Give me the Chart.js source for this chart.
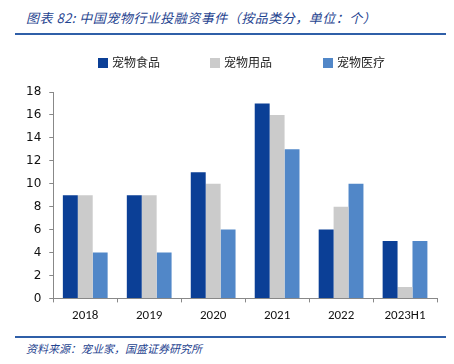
<!DOCTYPE html>
<html>
<head>
<meta charset="utf-8">
<script src="https://cdn.jsdelivr.net/npm/chart.js@4"></script>
<style>
  body { margin: 0; background: #fff; width: 454px; height: 364px; position: relative; overflow: hidden; }
  #title { position: absolute; left: 26px; top: 8px; font: italic 13px "Noto Sans CJK SC", sans-serif; color: #1F4490; white-space: nowrap; letter-spacing: 0.5px; }
  .rule { position: absolute; left: 15px; width: 431px; height: 2px; background: #2F5FA8; }
  #src { position: absolute; left: 26px; top: 340px; font: italic 11px "Noto Sans CJK SC", sans-serif; color: #1F4490; white-space: nowrap; }
  #wrap { position: absolute; left: 0; top: 40px; width: 454px; height: 290px; }
  .lg { position: absolute; top: 53px; font: 12px "Noto Sans CJK SC", sans-serif; color: #222; white-space: nowrap; line-height: 18px; }
  .lg i { display: inline-block; width: 10px; height: 10px; margin-right: 4px; vertical-align: -1px; }
</style>
</head>
<body>
<div id="title">图表 82:  中国宠物行业投融资事件（按品类分，单位：个）</div>
<div class="rule" style="top:33px"></div>
<div id="wrap"><canvas id="myBarChart"></canvas></div>
<div id="legend"></div>
<div class="rule" style="top:336px"></div>
<div id="src">资料来源：宠业家，国盛证券研究所</div>
<script>
const years = ['2018', '2019', '2020', '2021', '2022', '2023H1'];
const food = [9, 9, 11, 17, 6, 5];
const supplies = [9, 9, 10, 16, 8, 1];
const medical = [4, 4, 6, 13, 10, 5];
const yTicks = [0, 2, 4, 6, 8, 10, 12, 14, 16, 18];

const ctx = document.getElementById('myBarChart').getContext('2d');

const data = {
    labels: years,
    datasets: [
        {
            label: '宠物食品',
            data: food,
            backgroundColor: '#0B3F96'
        },
        {
            label: '宠物用品',
            data: supplies,
            backgroundColor: '#CBCBCB'
        },
        {
            label: '宠物医疗',
            data: medical,
            backgroundColor: '#5187C8'
        }
    ]
};

const config = {
    type: 'bar',
    data: data,
    options: {
        responsive: true,
        maintainAspectRatio: false,
        animation: false,
        datasets: {
            bar: { categoryPercentage: 0.7, barPercentage: 1.0 }
        },
        layout: { padding: { left: 18, right: 17, top: 52, bottom: 0 } },
        plugins: {
            legend: { display: false },
            tooltip: { enabled: false }
        },
        scales: {
            x: {
                grid: { drawOnChartArea: false, color: '#888', tickLength: 4, offset: true },
                border: { color: '#888' },
                ticks: {
                    color: '#111',
                    font: { family: 'Calibri, "Liberation Sans", sans-serif', size: 13 },
                    padding: 6
                }
            },
            y: {
                min: 0,
                max: 18,
                afterBuildTicks: (axis) => { axis.ticks = yTicks.map(v => ({ value: v })); },
                grid: { drawOnChartArea: false, color: '#888', tickLength: 4 },
                border: { color: '#888' },
                ticks: {
                    color: '#111',
                    font: { family: '"DejaVu Sans", sans-serif', size: 12 },
                    padding: 8
                }
            }
        }
    }
};

const myBarChart = new Chart(ctx, config);

// legend as html, spaced like the original
const legendX = [98, 210, 323];
const legendEl = document.getElementById('legend');
data.datasets.forEach((ds, i) => {
    const item = document.createElement('div');
    item.className = 'lg';
    item.style.left = legendX[i] + 'px';
    item.innerHTML = '<i style="background:' + ds.backgroundColor + '"></i>' + ds.label;
    legendEl.appendChild(item);
});
</script>
</body>
</html>
